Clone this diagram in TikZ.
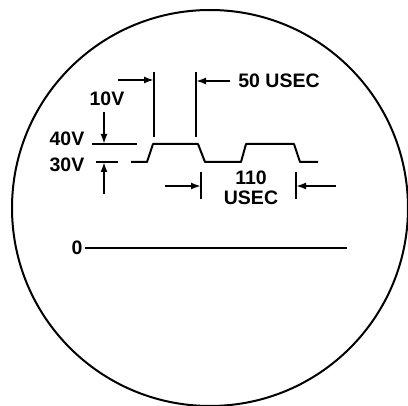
\documentclass[tikz,border=0pt]{standalone}
\usepackage{fontspec}
\setmainfont{Liberation Sans}
\usetikzlibrary{arrows.meta}

\begin{document}
\begin{tikzpicture}[x=1pt, y=-1pt,
    trace/.style={line width=2pt, line join=round},
    tick/.style={line width=1.8pt},
    dimarrow/.style={line width=1.8pt, -{Latex[length=10pt,width=7pt]}},
    lbl/.style={font=\bfseries\fontsize{19.5}{19.5}\selectfont, inner sep=0pt, align=center}
]
    \useasboundingbox (0,0) rectangle (408,406);

    % scope face
    \draw[trace] (210,208) circle (198);

    % pulse train
    \draw[trace] (131,162) -- (147,162) -- (153,144) -- (198,144) -- (205,162)
        -- (241,162) -- (246,144) -- (294,144) -- (300,162) -- (318,162);

    % baseline
    \node[lbl] (zero) at (77,248) {0};
    \coordinate (zeroend) at (347,248);
    \draw[trace] (zero.east) ++(2,0) coordinate (zerostart) -- (zeroend);

    % voltage labels
    \node[lbl] (v10) at (107,99) {10V};
    \node[lbl] (v40) at (67,139) {40V};
    \node[lbl] (v30) at (67,165) {30V};
    \coordinate (l40a) at (92,144);
    \coordinate (l40b) at (137,144);
    \coordinate (l30a) at (96,162);
    \coordinate (l30b) at (118,162);
    \draw[tick] (l40a) -- (l40b);
    \draw[tick] (l30a) -- (l30b);
    \coordinate (a40) at (104,112);
    \coordinate (a30) at (104,194);
    \draw[dimarrow] (a40) -- (l40a -| a40);
    \draw[dimarrow] (a30) -- (l30a -| a30);

    % pulse width
    \node[lbl] (w50) at (279,81) {50 USEC};
    \coordinate (w50l) at (154,72);
    \coordinate (w50r) at (196,72);
    \draw[tick] (w50l) -- (154,137);
    \draw[tick] (w50r) -- (196,137);
    \draw[dimarrow] (118,80) coordinate (w50la) -- (w50la -| w50l);
    \draw[dimarrow] (w50.west) ++(-8,0) coordinate (w50ra) -- (w50ra -| w50r);

    % period
    \node[lbl] (p110) at (251,188) {110\\USEC};
    \coordinate (p110l) at (201,172);
    \coordinate (p110r) at (296,172);
    \draw[tick] (p110l) -- (201,199);
    \draw[tick] (p110r) -- (296,199);
    \draw[dimarrow] (165,186) coordinate (p110la) -- (p110la -| p110l);
    \draw[dimarrow] (336,186) coordinate (p110ra) -- (p110ra -| p110r);
\end{tikzpicture}
\end{document}
